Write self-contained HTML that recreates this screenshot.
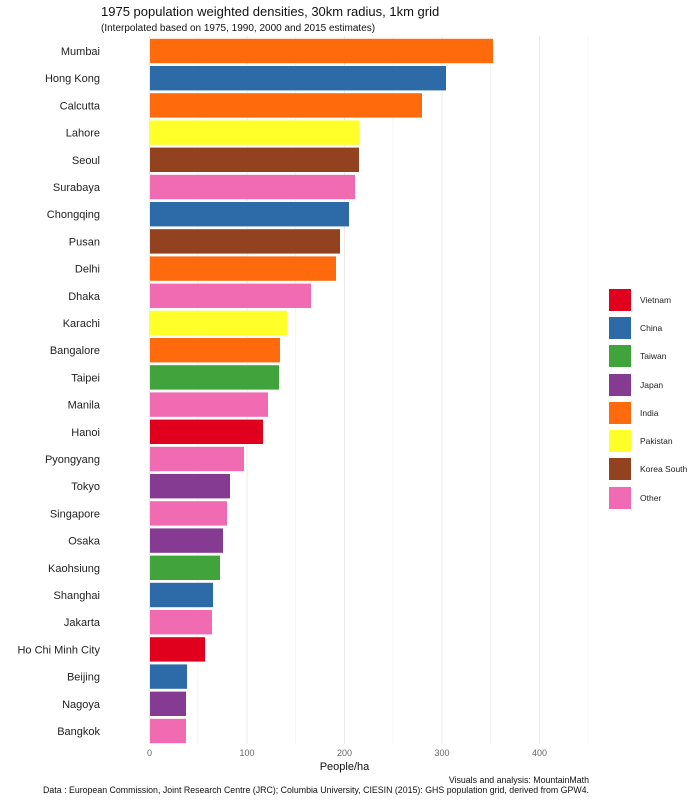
<!DOCTYPE html>
<html><head><meta charset="utf-8"><style>body{margin:0;background:#fff}svg{display:block;font-family:"Liberation Sans",Arial,sans-serif}</style></head><body>
<svg width="700" height="800" xmlns="http://www.w3.org/2000/svg">
<g stroke="#ebebeb" stroke-width="1">
<line x1="198" y1="36" x2="198" y2="744" stroke-width="0.5"/><line x1="295.5" y1="36" x2="295.5" y2="744" stroke-width="0.5"/><line x1="393" y1="36" x2="393" y2="744" stroke-width="0.5"/><line x1="490.5" y1="36" x2="490.5" y2="744" stroke-width="0.5"/><line x1="588" y1="36" x2="588" y2="744" stroke-width="0.5"/>
<line x1="149.5" y1="36" x2="149.5" y2="744"/><line x1="247" y1="36" x2="247" y2="744"/><line x1="344.5" y1="36" x2="344.5" y2="744"/><line x1="442" y1="36" x2="442" y2="744"/><line x1="539.5" y1="36" x2="539.5" y2="744"/>
</g>
<g>
<rect x="150" y="38.8" width="343" height="24.4" fill="#ff6a0d"/>
<rect x="150" y="66" width="296" height="24.4" fill="#2c6aa8"/>
<rect x="150" y="93.2" width="272" height="24.4" fill="#ff6a0d"/>
<rect x="150" y="120.4" width="209" height="24.4" fill="#ffff29"/>
<rect x="150" y="147.6" width="209" height="24.4" fill="#92421e"/>
<rect x="150" y="174.8" width="205" height="24.4" fill="#f06bb2"/>
<rect x="150" y="202" width="199" height="24.4" fill="#2c6aa8"/>
<rect x="150" y="229.2" width="190" height="24.4" fill="#92421e"/>
<rect x="150" y="256.4" width="186" height="24.4" fill="#ff6a0d"/>
<rect x="150" y="283.6" width="161" height="24.4" fill="#f06bb2"/>
<rect x="150" y="310.8" width="137" height="24.4" fill="#ffff29"/>
<rect x="150" y="338" width="130" height="24.4" fill="#ff6a0d"/>
<rect x="150" y="365.2" width="129" height="24.4" fill="#40a33c"/>
<rect x="150" y="392.4" width="118" height="24.4" fill="#f06bb2"/>
<rect x="150" y="419.6" width="113" height="24.4" fill="#e0001e"/>
<rect x="150" y="446.8" width="94" height="24.4" fill="#f06bb2"/>
<rect x="150" y="474" width="80" height="24.4" fill="#843b91"/>
<rect x="150" y="501.2" width="77" height="24.4" fill="#f06bb2"/>
<rect x="150" y="528.4" width="73" height="24.4" fill="#843b91"/>
<rect x="150" y="555.6" width="70" height="24.4" fill="#40a33c"/>
<rect x="150" y="582.8" width="63" height="24.4" fill="#2c6aa8"/>
<rect x="150" y="610" width="62" height="24.4" fill="#f06bb2"/>
<rect x="150" y="637.2" width="55" height="24.4" fill="#e0001e"/>
<rect x="150" y="664.4" width="37" height="24.4" fill="#2c6aa8"/>
<rect x="150" y="691.6" width="36" height="24.4" fill="#843b91"/>
<rect x="150" y="718.8" width="36" height="24.4" fill="#f06bb2"/>
</g>
<g font-size="11" fill="#222" text-anchor="end">
<text x="100" y="55">Mumbai</text><text x="100" y="82.2">Hong Kong</text><text x="100" y="109.4">Calcutta</text><text x="100" y="136.6">Lahore</text><text x="100" y="163.8">Seoul</text><text x="100" y="191">Surabaya</text><text x="100" y="218.2">Chongqing</text><text x="100" y="245.4">Pusan</text><text x="100" y="272.6">Delhi</text><text x="100" y="299.8">Dhaka</text><text x="100" y="327">Karachi</text><text x="100" y="354.2">Bangalore</text><text x="100" y="381.4">Taipei</text><text x="100" y="408.6">Manila</text><text x="100" y="435.8">Hanoi</text><text x="100" y="463">Pyongyang</text><text x="100" y="490.2">Tokyo</text><text x="100" y="517.4">Singapore</text><text x="100" y="544.6">Osaka</text><text x="100" y="571.8">Kaohsiung</text><text x="100" y="599">Shanghai</text><text x="100" y="626.2">Jakarta</text><text x="100" y="653.4">Ho Chi Minh City</text><text x="100" y="680.6">Beijing</text><text x="100" y="707.8">Nagoya</text><text x="100" y="735">Bangkok</text>
</g>
<g font-size="9" fill="#666" text-anchor="middle">
<text x="149.5" y="756">0</text><text x="247" y="756">100</text><text x="344.5" y="756">200</text><text x="442" y="756">300</text><text x="539.5" y="756">400</text>
</g>
<text x="344.5" y="770" font-size="11" fill="#111" text-anchor="middle">People/ha</text>
<text x="101" y="16" font-size="13" fill="#111">1975 population weighted densities, 30km radius, 1km grid</text>
<text x="101" y="31" font-size="10" fill="#111">(Interpolated based on 1975, 1990, 2000 and 2015 estimates)</text>
<g>
<rect x="609" y="289" width="22" height="22" fill="#e0001e"/>
<rect x="609" y="317" width="22" height="22" fill="#2c6aa8"/>
<rect x="609" y="345" width="22" height="22" fill="#40a33c"/>
<rect x="609" y="374" width="22" height="22" fill="#843b91"/>
<rect x="609" y="402" width="22" height="22" fill="#ff6a0d"/>
<rect x="609" y="430" width="22" height="22" fill="#ffff29"/>
<rect x="609" y="458" width="22" height="22" fill="#92421e"/>
<rect x="609" y="487" width="22" height="22" fill="#f06bb2"/>
</g>
<g font-size="8.5" fill="#222">
<text x="640" y="303">Vietnam</text><text x="640" y="331">China</text><text x="640" y="359">Taiwan</text><text x="640" y="388">Japan</text><text x="640" y="416">India</text><text x="640" y="444">Pakistan</text><text x="640" y="472">Korea South</text><text x="640" y="501">Other</text>
</g>
<g font-size="8.8" fill="#111" text-anchor="end">
<text x="589" y="783">Visuals and analysis: MountainMath</text>
<text x="589" y="793">Data : European Commission, Joint Research Centre (JRC); Columbia University, CIESIN (2015): GHS population grid, derived from GPW4.</text>
</g>
</svg>
</body></html>
